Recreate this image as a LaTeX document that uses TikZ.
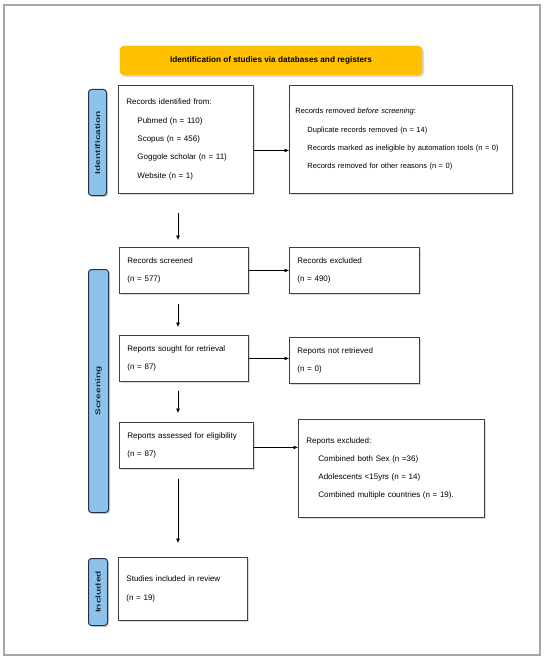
\documentclass[tikz,border=0pt]{standalone}
\usepackage{fontspec}
\setmainfont{Liberation Sans}
\newfontfamily\barfont{Liberation Sans}[FakeStretch=1.45]
\usetikzlibrary{arrows.meta,shadows}
\definecolor{prismaorange}{HTML}{FFC000}
\definecolor{prismablue}{HTML}{8DC3EA}
\definecolor{prismanavy}{HTML}{1F344F}
\tikzset{
  box/.style={draw=black!75, line width=0.9pt, fill=white, align=left,
    inner xsep=8pt, inner ysep=2pt, anchor=north west,
    font={\fontsize{8}{18.3}\selectfont},
    drop shadow={shadow xshift=2pt, shadow yshift=-2pt, opacity=0.3}},
  stage/.style 2 args={box, text width=#1, minimum height=#2},
  sidebar/.style 2 args={draw=prismanavy, line width=1pt, fill=prismablue,
    rounded corners=3pt, anchor=north west, inner sep=0pt,
    minimum width=#1, minimum height=#2,
    drop shadow={shadow xshift=1.5pt, shadow yshift=-1.5pt, opacity=0.35}},
  bartext/.style={rotate=90, inner sep=0pt, text=prismanavy!80!black,
    font={\barfont\bfseries\fontsize{7}{8}\selectfont}},
  header/.style={fill=prismaorange, draw=prismaorange!92!black, rounded corners=4pt,
    minimum width=302pt, minimum height=29pt,
    font={\fontsize{8.2}{10}\selectfont\bfseries},
    drop shadow={shadow xshift=2pt, shadow yshift=-2pt, opacity=0.3}},
  arr/.style={-{Latex[length=4.5pt,width=4pt]}, line width=0.6pt}
}
\begin{document}
\begin{tikzpicture}[x=1pt, y=-1pt]
    \useasboundingbox (0,0) rectangle (550,666);
    % outer frame
    \draw[gray!70, line width=1.2pt] (4,5) rectangle (540,655);

    % header
    \node[header] (header) at (271,60.5) {Identification of studies via databases and registers};

    % side bars
    \node[sidebar={18pt}{106pt}] (idbar) at (88,89) {};
    \node[bartext] (idtext) at (idbar.center) {Identification};
    \node[sidebar={20pt}{243pt}] (scrbar) at (88,269) {};
    \node[bartext] (scrtext) at (scrbar.center) {Screening};
    \node[sidebar={19pt}{67pt}] (incbar) at (88,558) {};
    \node[bartext] (inctext) at (incbar.center) {Included};

    % identification
    \node[stage={119pt}{108pt}] (identified) at (118,85) {Records identified from:\\
        \hspace*{11pt}Pubmed (n = 110)\\
        \hspace*{11pt}Scopus (n = 456)\\
        \hspace*{11pt}Goggole scholar (n = 11)\\
        \hspace*{11pt}Website (n = 1)};
    \node[stage={211pt}{108pt}, inner xsep=6pt, font={\fontsize{7.5}{18.3}\selectfont}] (removed) at (289,85) {Records removed \textit{before screening}:\\
        \hspace*{12pt}Duplicate records removed (n = 14)\\
        \hspace*{12pt}Records marked as ineligible by automation tools (n = 0)\\
        \hspace*{12pt}Records removed for other reasons (n = 0)};

    % screening
    \node[stage={113pt}{46pt}] (screened) at (119,247) {Records screened\\(n = 577)};
    \node[stage={114pt}{46pt}] (excluded) at (289,247) {Records excluded\\(n = 490)};
    \node[stage={113pt}{46pt}] (sought) at (119,335) {Reports sought for retrieval\\(n = 87)};
    \node[stage={114pt}{46pt}] (notretrieved) at (289,337) {Reports not retrieved\\(n = 0)};
    \node[stage={118pt}{46pt}] (assessed) at (119,422) {Reports assessed for eligibility\\(n = 87)};
    \node[stage={170pt}{98pt}] (reportsexcl) at (298,419) {Reports excluded:\\
        \hspace*{12pt}Combined both Sex (n =36)\\
        \hspace*{12pt}Adolescents <15yrs (n = 14)\\
        \hspace*{12pt}Combined multiple countries (n = 19).};

    % included
    \node[stage={113pt}{63pt}] (studies) at (118,557) {Studies included in review\\(n = 19)};

    % arrows
    \coordinate (colx) at (178,0);
    \draw[arr] ([yshift=-11pt]identified.east) -- ([yshift=-11pt]removed.west);
    \draw[arr, shorten <=19pt, shorten >=7pt] (identified.south -| colx) -- (screened.north -| colx);
    \draw[arr] (screened.east) -- (screened.east -| excluded.west);
    \draw[arr, shorten <=10pt, shorten >=8pt] (screened.south -| colx) -- (sought.north -| colx);
    \draw[arr] (sought.east) -- (sought.east -| notretrieved.west);
    \draw[arr, shorten <=9pt, shorten >=9pt] (sought.south -| colx) -- (assessed.north -| colx);
    \draw[arr] ([yshift=-2pt]assessed.east) -- ([yshift=-2pt]assessed.east -| reportsexcl.west);
    \draw[arr, shorten <=10pt, shorten >=14pt] (assessed.south -| colx) -- (studies.north -| colx);
\end{tikzpicture}
\end{document}
